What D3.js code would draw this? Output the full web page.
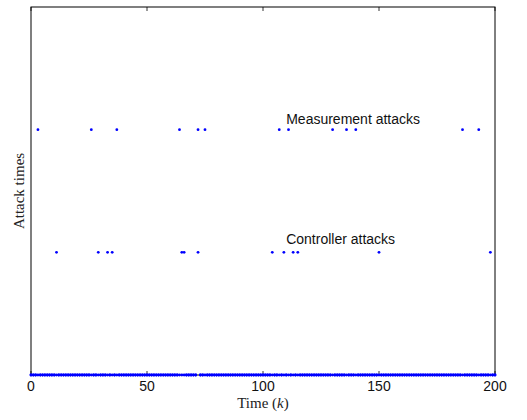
<!DOCTYPE html>
<html>
<head>
<meta charset="utf-8">
<script src="https://cdn.jsdelivr.net/npm/d3@7"></script>
<style>
  body { margin: 0; background: #fff; }
  svg { display: block; }
</style>
</head>
<body>
<svg id="svg" width="527" height="420"></svg>
<script>
// time steps k = 0..200
var kValues = d3.range(0, 201);
// attack instants
var measurementAttacks = [3, 26, 37, 64, 72, 75, 107, 111, 130, 136, 140, 186, 193];
var controllerAttacks = [11, 29, 33, 35, 65, 66, 72, 104, 109, 113, 115, 150, 198];
var measurementLevel = 2;
var controllerLevel = 1;
var xTicks = [0, 50, 100, 150, 200];

var svg = d3.select('svg');
var margin = {left: 31, right: 32, top: 7, bottom: 45};
var width = 527 - margin.left - margin.right;
var height = 420 - margin.top - margin.bottom;

var x = d3.scaleLinear().domain([0, 200]).range([0, width]);
var y = d3.scaleLinear().domain([0, 3]).range([height, 0]);

var g = svg.append('g').attr('transform', 'translate(' + margin.left + ',' + margin.top + ')');

// series: level at attack times, zero elsewhere
function series(attacks, level) {
  return kValues.map(function(k) {
    return {k: k, v: attacks.indexOf(k) >= 0 ? level : 0};
  });
}
var data = series(measurementAttacks, measurementLevel).concat(series(controllerAttacks, controllerLevel));

// box
g.append('rect').attr('width', width).attr('height', height)
  .attr('fill', 'none').attr('stroke', '#000').attr('stroke-width', 1);

// ticks (inward, bottom and top)
var tickLen = 4;
g.selectAll('.tb').data(xTicks).enter().append('line')
  .attr('x1', function(d) { return x(d); }).attr('x2', function(d) { return x(d); })
  .attr('y1', height).attr('y2', height - tickLen)
  .attr('stroke', '#000').attr('stroke-width', 0.8);
g.selectAll('.tt').data(xTicks).enter().append('line')
  .attr('x1', function(d) { return x(d); }).attr('x2', function(d) { return x(d); })
  .attr('y1', 0).attr('y2', tickLen)
  .attr('stroke', '#000').attr('stroke-width', 0.8);

var sans = 'Liberation Sans, Arial, sans-serif';
var serif = 'Liberation Serif, Times New Roman, serif';

g.selectAll('.tl').data(xTicks).enter().append('text')
  .attr('x', function(d) { return x(d); }).attr('y', height + 16)
  .attr('text-anchor', 'middle')
  .style('font-family', sans).style('font-size', '14px').attr('fill', '#111')
  .text(function(d) { return d; });

// points
g.selectAll('circle').data(data).enter().append('circle')
  .attr('cx', function(d) { return x(d.k); })
  .attr('cy', function(d) { return y(d.v); })
  .attr('r', 1.4)
  .attr('fill', '#0000ff');

// annotations
g.append('text').attr('x', x(110)).attr('y', y(2.05))
  .style('font-family', sans).style('font-size', '14px').attr('fill', '#111')
  .text('Measurement attacks');
g.append('text').attr('x', x(110)).attr('y', y(1.07))
  .style('font-family', sans).style('font-size', '14px').attr('fill', '#111')
  .text('Controller attacks');

// axis labels
var xl = svg.append('text').attr('x', margin.left + width / 2).attr('y', 408)
  .attr('text-anchor', 'middle')
  .style('font-family', serif).style('font-size', '15px').attr('fill', '#222');
xl.append('tspan').text('Time (');
xl.append('tspan').style('font-style', 'italic').text('k');
xl.append('tspan').text(')');

svg.append('text')
  .attr('transform', 'translate(24,' + (margin.top + height / 2) + ') rotate(-90)')
  .attr('text-anchor', 'middle')
  .style('font-family', serif).style('font-size', '15px').attr('fill', '#222')
  .text('Attack times');
</script>
</body>
</html>
